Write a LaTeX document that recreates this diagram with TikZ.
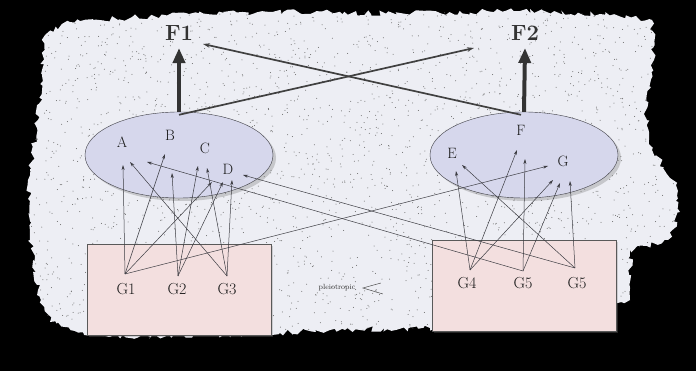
\documentclass[tikz,border=0pt]{standalone}
\usepackage{tikz}
\usetikzlibrary{arrows.meta,shapes.geometric,shadows,decorations.pathmorphing}
\usepackage{xcolor}
\definecolor{paper}{RGB}{237,238,244}
\definecolor{traitfill}{RGB}{214,215,236}
\definecolor{genefill}{RGB}{243,223,223}
\definecolor{inkgray}{RGB}{60,60,66}

\begin{document}
\begin{tikzpicture}[x=1pt,y=-1pt,
  trait/.style={draw=inkgray,ellipse,fill=traitfill,inner sep=0pt,minimum width=188,minimum height=86,
    drop shadow={opacity=0.35,shadow xshift=3pt,shadow yshift=-3pt}},
  genebox/.style={draw=gray!70!black,fill=genefill,inner sep=0pt,minimum width=184,minimum height=91,
    drop shadow={opacity=0.3,shadow xshift=2pt,shadow yshift=-2pt}},
  letter/.style={font=\fontsize{15}{17}\selectfont,text=black!90},
  gene/.style={font=\fontsize{16}{18}\selectfont,text=black!90},
  factor/.style={font=\fontsize{22}{24}\selectfont\bfseries,text=black!80},
  effect/.style={-{Stealth[length=5pt,width=3pt]},inkgray,line width=0.5pt},
  fat/.style={-{Triangle[length=15pt,width=12pt]},line width=4pt,black!80},
  cross/.style={-{Stealth[length=7pt,width=4.5pt]},line width=1.7pt,black!75}]
\useasboundingbox (0,0) rectangle (696,371);
\fill[black] (0,0) rectangle (696,371);

% torn sheet behind everything
\fill[paper,decorate,decoration={random steps,segment length=4pt,amplitude=3pt}]
  (45,35) -- (70,22) -- (150,16) -- (270,12) -- (400,13) -- (520,11) -- (600,14) -- (652,20)
  -- (654,60) -- (646,110) -- (652,150) -- (676,185) -- (680,212) -- (668,240) -- (630,250)
  -- (630,300) -- (560,330) -- (430,328) -- (330,330) -- (280,333) -- (200,336) -- (90,336)
  -- (50,322) -- (38,290) -- (30,240) -- (28,180) -- (38,120) -- (42,70) -- cycle;
\begin{scope}
  \clip (45,35) -- (70,22) -- (150,16) -- (270,12) -- (400,13) -- (520,11) -- (600,14) -- (652,20)
    -- (654,60) -- (646,110) -- (652,150) -- (676,185) -- (680,212) -- (668,240) -- (630,250)
    -- (630,300) -- (560,330) -- (430,328) -- (330,330) -- (280,333) -- (200,336) -- (90,336)
    -- (50,322) -- (38,290) -- (30,240) -- (28,180) -- (38,120) -- (42,70) -- cycle;
  \pgfmathsetseed{17}
  \foreach \i in {1,...,2600}
    \fill[black!60] ({30+rnd*650},{10+rnd*330}) circle (0.5);
\end{scope}

% trait clusters and gene boxes
\node[trait] (L) at (179,155) {};
\node[trait] (R) at (524,155) {};
\node[genebox] (GL) at (179,289.5) {};
\node[genebox] (GR) at (524,285.5) {};

\node[letter] (A) at (122,142) {A};
\node[letter] (B) at (170,135) {B};
\node[letter] (C) at (205,148) {C};
\node[letter] (D) at (228,169) {D};
\node[letter] (E) at (452,153) {E};
\node[letter] (F) at (521,130) {F};
\node[letter] (G) at (563,161) {G};

\node[gene] (G1) at (126,289) {G1};
\node[gene] (G2) at (177,289) {G2};
\node[gene] (G3) at (227,289) {G3};
\node[gene] (G4) at (467,283) {G4};
\node[gene] (G5) at (523,283) {G5};
\node[gene] (G6) at (577,283) {G5};

\node[factor] (F1) at (179,33) {F1};
\node[factor] (F2) at (525,33) {F2};

\node[font=\fontsize{7.5}{8}\selectfont,text=black!80] (pleio) at (337,288) {pleiotropic};
\draw[gray!60!black,line width=0.5pt] ([shift={(22,-5)}]pleio.east) -- ([xshift=4]pleio.east)
  -- ([shift={(24,6)}]pleio.east);

% gene outlets
\coordinate (s1) at (125,274);
\coordinate (s2) at (178,276);
\coordinate (s3) at (227,276);
\coordinate (s4) at (470,270);
\coordinate (s5) at (523,271);
\coordinate (s6) at (575,268);

% arrow tips inside the clusters
\coordinate (a1) at (123,165);
\coordinate (a2) at (130,162);
\coordinate (a3) at (147,162);
\coordinate (b1) at (165,154);
\coordinate (b2) at (172,173);
\coordinate (c1) at (198,166);
\coordinate (c2) at (207,168);
\coordinate (d1) at (212,182);
\coordinate (d2) at (223,182);
\coordinate (d3) at (232,180);
\coordinate (d4) at (243,175);
\coordinate (e1) at (456,171);
\coordinate (e2) at (462,165);
\coordinate (f1) at (517,150);
\coordinate (f2) at (525,159);
\coordinate (g1) at (548,166);
\coordinate (g2) at (553,180);
\coordinate (g3) at (560,183);
\coordinate (g4) at (570,181);

\draw[effect] (s1) -- (a1);
\draw[effect] (s1) -- (b1);
\draw[effect] (s1) -- (d1);
\draw[effect] (s1) -- (g1);
\draw[effect] (s2) -- (b2);
\draw[effect] (s2) -- (c1);
\draw[effect] (s2) -- (d2);
\draw[effect] (s3) -- (a2);
\draw[effect] (s3) -- (c2);
\draw[effect] (s3) -- (d3);
\draw[effect] (s4) -- (e1);
\draw[effect] (s4) -- (f1);
\draw[effect] (s4) -- (g2);
\draw[effect] (s5) -- (a3);
\draw[effect] (s5) -- (f2);
\draw[effect] (s5) -- (g3);
\draw[effect] (s6) -- (d4);
\draw[effect] (s6) -- (e2);
\draw[effect] (s6) -- (g4);

% clusters feeding the two factors
\coordinate (toF1) at (203,44);
\coordinate (toF2) at (474,48);
\draw[cross] ([yshift=-3]L.north) -- (toF2);
\draw[cross] ([xshift=-3,yshift=-3]R.north) -- (toF1);
\draw[fat] (L.north) -- ([yshift=-4]F1.south);
\draw[fat] (R.north) -- ([yshift=-4]F2.south);
\end{tikzpicture}
\end{document}
